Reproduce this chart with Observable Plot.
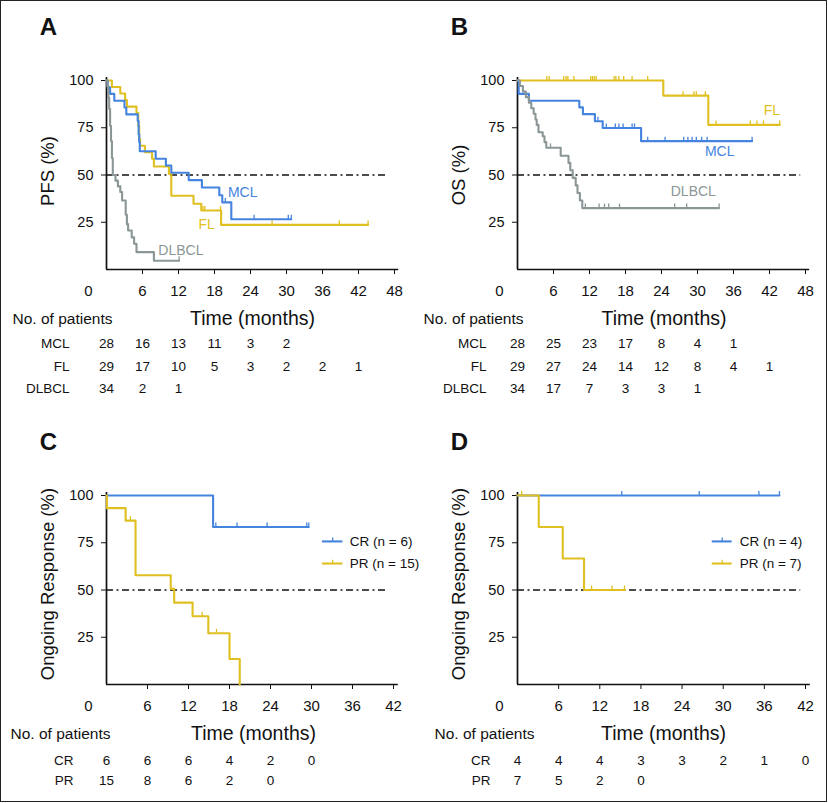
<!DOCTYPE html>
<html><head><meta charset="utf-8">
<script src="https://cdn.jsdelivr.net/npm/d3@7"></script>
<script src="https://cdn.jsdelivr.net/npm/@observablehq/plot@0.6"></script>
<style>
body{margin:0;background:#fff;}
#fig{position:relative;width:828px;height:803px;font-family:"Liberation Sans",Arial,sans-serif;overflow:hidden;}
#fig .p{position:absolute;}
#border{position:absolute;left:0;top:0;width:827px;height:802px;border:1.6px solid #222;box-sizing:border-box;pointer-events:none;}
</style>
</head><body>
<div id="fig"><div id="border"></div></div>
<script>
// ---------- colours ----------
const BLUE = "#4584de", GOLD = "#e0c020", GREY = "#8b9696";

// ---------- tick values ----------
const ticks48 = [0, 6, 12, 18, 24, 30, 36, 42, 48];
const ticks42 = [0, 6, 12, 18, 24, 30, 36, 42];
const yTicks = [25, 50, 75, 100];

// ---------- Panel A: PFS ----------
const pfsMCL_t = [0, 0.2, 0.6, 1.3, 3.0, 3.3, 5.2, 5.35, 5.45, 5.55, 8.2, 9.9, 10.8, 13.7, 15.9, 18.8, 19.3, 20.8];
const pfsMCL_s = [100, 96.4, 92.9, 89.3, 85.7, 82.1, 78.6, 71.5, 67.5, 62.6, 58.6, 55.0, 51.2, 47.3, 43.4, 39.3, 35.5, 26.6];
const pfsMCL_end = 30.8;
const pfsMCL_cens = [19.8, 24.6, 30.3, 30.8];

const pfsFL_t = [0, 0.9, 2.3, 3.1, 3.4, 5.0, 5.3, 5.45, 5.6, 6.4, 7.6, 7.9, 10.4, 10.8, 14.5, 15.8, 19.1];
const pfsFL_s = [100, 96.6, 93.1, 89.7, 86.2, 82.8, 75.9, 69.0, 65.5, 62.1, 58.6, 54.5, 50.6, 39.0, 34.8, 31.2, 23.6];
const pfsFL_end = 43.6;
const pfsFL_cens = [16.1, 16.4, 19.0, 27.6, 38.8, 43.6];

const pfsDL_t = [0, 0.15, 0.3, 0.45, 0.6, 0.75, 0.9, 1.05, 1.5, 1.9, 2.3, 2.6, 3.2, 3.4, 3.6, 4.2, 4.6, 5.0, 7.9];
const pfsDL_s = [100, 97, 91, 85, 76, 68, 59, 50, 47, 44, 41, 36.5, 29, 24, 20.6, 17, 13.6, 9.2, 4.6];
const pfsDL_end = 12.1;
const pfsDL_cens = [12.1];

const riskA_rows = ["MCL", "FL", "DLBCL"];
const riskA_MCL = [28, 16, 13, 11, 3, 2];
const riskA_FL = [29, 17, 10, 5, 3, 2, 2, 1];
const riskA_DL = [34, 2, 1];

// ---------- Panel B: OS ----------
const osMCL_t = [0, 0.2, 1.9, 10.3, 10.9, 12.9, 14.2, 20.6];
const osMCL_s = [100, 92.9, 89.3, 85.8, 82.2, 78.4, 74.9, 67.9];
const osMCL_end = 39.1;
const osMCL_cens = [13.4, 14.8, 16.3, 16.9, 17.6, 19.1, 19.5, 21.7, 24.6, 27.7, 28.4, 29.1, 29.8, 30.7, 31.6, 39.1];

const osFL_t = [0, 24.3, 31.8];
const osFL_s = [100, 92, 76.5];
const osFL_end = 43.7;
const osFL_cens = [4.9, 5.3, 7.7, 8.1, 8.4, 9.4, 12.2, 12.5, 12.8, 13.1, 16.1, 16.4, 16.9, 17.7, 19.1, 21.7, 27.6, 29.4, 29.8, 31.3, 33.1, 38.8, 39.9, 41.0, 43.7];

const osDL_t = [0, 0.4, 0.9, 1.4, 1.9, 2.3, 2.7, 3.0, 3.2, 3.5, 4.2, 4.5, 4.8, 7.2, 8.5, 8.8, 9.2, 9.7, 10.0, 10.4, 10.8];
const osDL_s = [100, 97.1, 94.1, 91.2, 88.2, 85.3, 82.4, 79.4, 76.5, 72.6, 70.5, 67.4, 64.4, 60.2, 56.4, 52.5, 48.5, 44.5, 40.5, 36.5, 32.5];
const osDL_end = 33.6;
const osDL_cens = [5.5, 11.3, 13.6, 14.5, 15.2, 17.0, 26.2, 28.2, 33.6];

const riskB_MCL = [28, 25, 23, 17, 8, 4, 1];
const riskB_FL = [29, 27, 24, 14, 12, 8, 4, 1];
const riskB_DL = [34, 17, 7, 3, 3, 1];

// ---------- Panel C ----------
const cCR_t = [0, 15.6];
const cCR_s = [100, 83.3];
const cCR_end = 29.6;
const cCR_cens = [16.0, 19.1, 23.5, 29.3, 29.6];

const cPR_t = [0, 0.05, 2.8, 4.25, 9.4, 9.9, 12.6, 14.9, 18.0, 19.5];
const cPR_s = [100, 93.3, 86.7, 57.8, 50.6, 43.3, 36.1, 27.1, 13.5, 0];
const cPR_end = 19.5;
const cPR_cens = [3.5, 14.0, 16.1];

const riskC_rows = ["CR", "PR"];
const riskC_CR = [6, 6, 6, 4, 2, 0];
const riskC_PR = [15, 8, 6, 2, 0];
const legC = ["CR (n = 6)", "PR (n = 15)"];

// ---------- Panel D ----------
const dCR_t = [0];
const dCR_s = [100];
const dCR_end = 38.2;
const dCR_cens = [15.2, 26.5, 35.2, 38.2];

const dPR_t = [0, 3.1, 6.6, 9.7];
const dPR_s = [100, 83.3, 66.7, 50];
const dPR_end = 15.7;
const dPR_cens = [0.6, 10.8, 13.8, 15.6];

const riskD_CR = [4, 4, 4, 3, 3, 2, 1, 0];
const riskD_PR = [7, 5, 2, 0];
const legD = ["CR (n = 4)", "PR (n = 7)"];

// ---------- helpers ----------
function curve(t, s, end) {
  const pts = t.map((x, i) => ({t: x, s: s[i]}));
  pts.push({t: end, s: s[s.length - 1]});
  return pts;
}
function cens(t, s, ct) {
  return ct.map(c => {
    let v = s[0];
    for (let i = 0; i < t.length; i++) if (t[i] <= c) v = s[i];
    return {t: c, s: v};
  });
}
function seriesMarks(t, s, end, ct, color) {
  return [
    Plot.line(curve(t, s, end), {x: "t", y: "s", curve: "step-after", stroke: color, strokeWidth: 2.1}),
    Plot.ruleX(cens(t, s, ct), {x: "t", y1: "s", y2: d => d.s + 2.1, stroke: color, strokeWidth: 1.3})
  ];
}
function riskRow(values, dy) {
  return Plot.text(values.map((n, i) => ({t: i * 6, n})), {
    x: "t", text: "n", frameAnchor: "bottom", lineAnchor: "middle", dy, fontSize: 13.5, fill: "#111"
  });
}

function panel(cfg) {
  const marks = [
    Plot.ruleX([0], {y1: 0, y2: 101.6, stroke: "#111", strokeWidth: 1.7}),
    Plot.ruleY([0], {x1: 0, x2: cfg.xmax + 0.7, stroke: "#111", strokeWidth: 1.7}),
    Plot.axisY({ticks: yTicks, tickSize: 5, tickPadding: 8, fontSize: 14.5, label: null}),
    Plot.axisX({ticks: cfg.xticks.filter(v => v > 0), tickSize: 5, tickPadding: 11, fontSize: 15, label: null}),
    Plot.axisX({ticks: [0], tickSize: 0, tickPadding: 16, dx: -18, fontSize: 15, label: null}),
    Plot.ruleY([50], {x1: 0, x2: cfg.dashEnd, stroke: "#111", strokeWidth: 1.3, strokeDasharray: "7,3.5,2,3.5"}),
    ...cfg.series.flatMap(d => seriesMarks(...d)),
    ...(cfg.labels || []).map(l => Plot.text([l.text], {x: l.x, y: l.y, fill: l.color, fontSize: 14})),
    Plot.text([cfg.ytitle], {frameAnchor: "left", textAnchor: "middle", lineAnchor: "middle", dx: -58, dy: cfg.titleDy || 0, rotate: -90, fontSize: 18.5, fill: "#111"}),
    Plot.text([cfg.letter], {frameAnchor: "top-left", textAnchor: "middle", lineAnchor: "middle", dx: -58, dy: -53.5, fontSize: 24, fontWeight: "bold", fill: "#111"}),
    Plot.text(["No. of patients"], {frameAnchor: "bottom-left", textAnchor: "start", lineAnchor: "middle", dx: cfg.noDx, dy: 50, fontSize: 15.5, fill: "#111"}),
    Plot.text(["Time (months)"], {frameAnchor: "bottom", textAnchor: "middle", lineAnchor: "middle", dx: cfg.timeDx, dy: 49, fontSize: 19.5, fill: "#111"}),
    ...cfg.rows.map((r, i) => Plot.text([r], {frameAnchor: "bottom-left", textAnchor: "end", lineAnchor: "middle", dx: cfg.rowDx, dy: cfg.rowDy[i], fontSize: 13.5, fill: "#111"})),
    ...cfg.risk.map((v, i) => riskRow(v, cfg.rowDy[i]))
  ];
  if (cfg.legend) {
    const L = cfg.legend;
    L.items.forEach((txt, i) => {
      marks.push(Plot.ruleY([L.ys[i]], {x1: L.x1, x2: L.x2, stroke: L.colors[i], strokeWidth: 2.1}));
      marks.push(Plot.ruleX([(L.x1 + L.x2) / 2], {y1: L.ys[i], y2: L.ys[i] + 1.8, stroke: L.colors[i], strokeWidth: 1.3}));
      marks.push(Plot.text([txt], {x: L.tx, y: L.ys[i], textAnchor: "start", fontSize: 13.5, fill: "#111"}));
    });
  }
  const svg = Plot.plot({
    width: cfg.width, height: cfg.height,
    marginLeft: cfg.ml, marginRight: cfg.mr, marginTop: cfg.mt, marginBottom: cfg.mb,
    x: {domain: [0, cfg.xmax]}, y: {domain: [0, 100]},
    style: {fontFamily: '"Liberation Sans", Arial, sans-serif', fontSize: "14px", color: "#111", background: "transparent", overflow: "visible"},
    marks
  });
  const div = document.createElement("div");
  div.className = "p";
  div.style.left = cfg.left + "px";
  div.style.top = cfg.top + "px";
  div.appendChild(svg);
  document.getElementById("fig").insertBefore(div, document.getElementById("border"));
}

panel({
  letter: "A", left: 0, top: 0, width: 414, height: 405, ml: 106, mr: 20, mt: 80, mb: 136,
  xmax: 48, xticks: ticks48, dashEnd: 47, ytitle: "PFS (%)", titleDy: -4,
  series: [
    [pfsFL_t, pfsFL_s, pfsFL_end, pfsFL_cens, GOLD],
    [pfsMCL_t, pfsMCL_s, pfsMCL_end, pfsMCL_cens, BLUE],
    [pfsDL_t, pfsDL_s, pfsDL_end, pfsDL_cens, GREY]
  ],
  labels: [
    {text: "MCL", x: 22.7, y: 40.7, color: BLUE},
    {text: "FL", x: 16.7, y: 23.8, color: GOLD},
    {text: "DLBCL", x: 12.4, y: 10, color: GREY}
  ],
  noDx: -94, timeDx: 2, rowDx: -37, rowDy: [74, 97, 119], rows: riskA_rows,
  risk: [riskA_MCL, riskA_FL, riskA_DL]
});

panel({
  letter: "B", left: 414, top: 0, width: 414, height: 405, ml: 103, mr: 23, mt: 80, mb: 136,
  xmax: 48, xticks: ticks48, dashEnd: 47.2, ytitle: "OS (%)", titleDy: 0,
  series: [
    [osFL_t, osFL_s, osFL_end, osFL_cens, GOLD],
    [osMCL_t, osMCL_s, osMCL_end, osMCL_cens, BLUE],
    [osDL_t, osDL_s, osDL_end, osDL_cens, GREY]
  ],
  labels: [
    {text: "FL", x: 42.4, y: 84.1, color: GOLD},
    {text: "MCL", x: 33.7, y: 62.4, color: BLUE},
    {text: "DLBCL", x: 29.3, y: 41.3, color: GREY}
  ],
  noDx: -94, timeDx: 2.5, rowDx: -31, rowDy: [74, 97, 119], rows: riskA_rows,
  risk: [riskB_MCL, riskB_FL, riskB_DL]
});

panel({
  letter: "C", left: 0, top: 405, width: 414, height: 398, ml: 106, mr: 21, mt: 90, mb: 119,
  xmax: 42, xticks: ticks42, dashEnd: 41.1, ytitle: "Ongoing Response (%)", titleDy: -6,
  series: [
    [cCR_t, cCR_s, cCR_end, cCR_cens, BLUE],
    [cPR_t, cPR_s, cPR_end, cPR_cens, GOLD]
  ],
  legend: {items: legC, colors: [BLUE, GOLD], x1: 31.6, x2: 34.6, tx: 35.6, ys: [75.7, 64.0]},
  noDx: -96, timeDx: 3.5, rowDx: -33, rowDy: [76, 96], rows: riskC_rows,
  risk: [riskC_CR, riskC_PR]
});

panel({
  letter: "D", left: 414, top: 405, width: 414, height: 398, ml: 103, mr: 23, mt: 90, mb: 119,
  xmax: 42, xticks: ticks42, dashEnd: 41.3, ytitle: "Ongoing Response (%)", titleDy: -6,
  series: [
    [dCR_t, dCR_s, dCR_end, dCR_cens, BLUE],
    [dPR_t, dPR_s, dPR_end, dPR_cens, GOLD]
  ],
  legend: {items: legD, colors: [BLUE, GOLD], x1: 28.4, x2: 31.3, tx: 32.4, ys: [75.7, 64.0]},
  noDx: -83, timeDx: 2, rowDx: -27, rowDy: [76, 96], rows: riskC_rows,
  risk: [riskD_CR, riskD_PR]
});
</script>
</body></html>
